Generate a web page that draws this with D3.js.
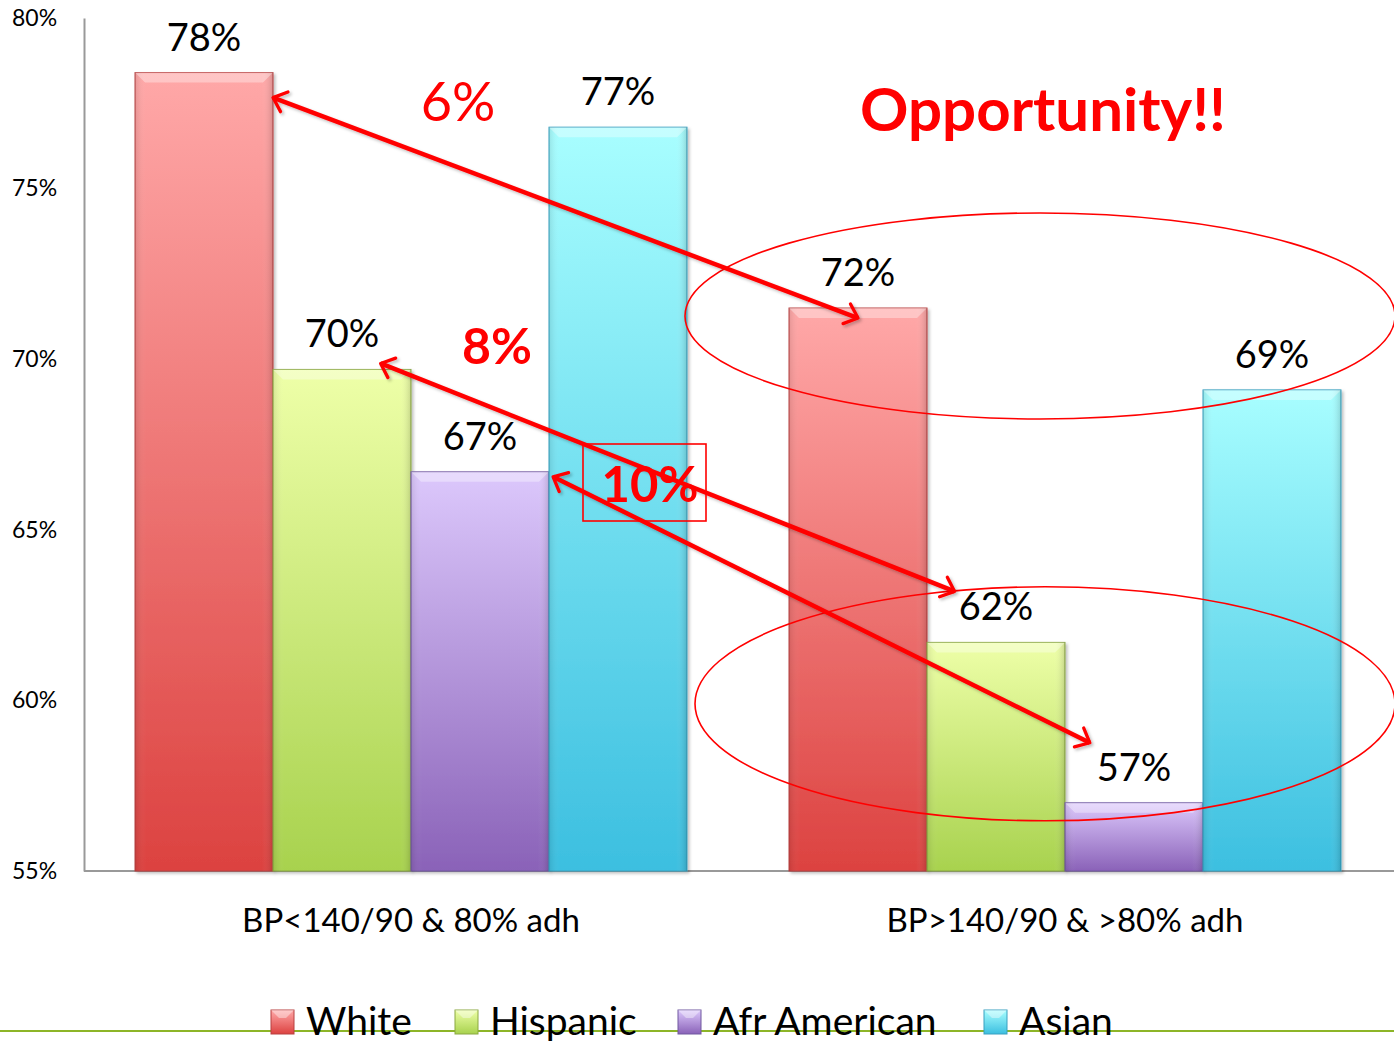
<!DOCTYPE html>
<html><head><meta charset="utf-8">
<script src="https://cdn.jsdelivr.net/npm/d3@7"></script>
<style>
html,body{margin:0;padding:0;background:#fff;}
svg{display:block;font-family:Lato, "Open Sans", sans-serif;}
</style></head>
<body>
<svg id="chart" width="1394" height="1041"></svg>
<script>
// ---- data ----
const categories = ["BP<140/90 & 80% adh", "BP>140/90 & >80% adh"];
const seriesNames = ["White", "Hispanic", "Afr American", "Asian"];
const white = [78.4, 71.5];
const hispanic = [69.7, 61.7];
const afrAmerican = [66.7, 57.0];
const asian = [76.8, 69.1];
const valueLabels = [["78%","70%","67%","77%"],["72%","62%","57%","69%"]];
const yTicks = [55, 60, 65, 70, 75, 80];
const diffLabels = ["6%", "8%", "10%"];
const calloutText = "Opportunity!!";

const seriesValues = [white, hispanic, afrAmerican, asian];
const colors = [
  {top:"#ffa8a8", bot:"#dc4240", edge:"#b84040"},
  {top:"#eeffa8", bot:"#a8d24e", edge:"#8aa840"},
  {top:"#dcc8fc", bot:"#8a62b8", edge:"#7058a0"},
  {top:"#a8feff", bot:"#3cbfe0", edge:"#38a0c0"}
];

const svg = d3.select("#chart");
const mLeft = 84, mRight = 1392, mTop = 18, mBottom = 871;

const x0 = d3.scaleBand().domain(categories).range([mLeft, mRight]).paddingInner(0.156).paddingOuter(0.078);
const x1 = d3.scaleBand().domain(seriesNames).range([0, x0.bandwidth()]).padding(0);
const y = d3.scaleLinear().domain([55, 80]).range([mBottom, mTop]);

const defs = svg.append("defs");
colors.forEach((c,i)=>{
  const g = defs.append("linearGradient").attr("id","grad"+i).attr("x1",0).attr("y1",0).attr("x2",0).attr("y2",1);
  g.append("stop").attr("offset","0%").attr("stop-color",c.top);
  g.append("stop").attr("offset","100%").attr("stop-color",c.bot);
  const h = defs.append("linearGradient").attr("id","hgrad"+i).attr("x1",0).attr("y1",0).attr("x2",1).attr("y2",0);
  h.append("stop").attr("offset","0%").attr("stop-color","#000").attr("stop-opacity",0.10);
  h.append("stop").attr("offset","8%").attr("stop-color","#fff").attr("stop-opacity",0.0);
  h.append("stop").attr("offset","92%").attr("stop-color","#fff").attr("stop-opacity",0.0);
  h.append("stop").attr("offset","100%").attr("stop-color","#000").attr("stop-opacity",0.15);
});
const f = defs.append("filter").attr("id","shadow").attr("x","-10%").attr("y","-10%").attr("width","130%").attr("height","130%");
f.append("feDropShadow").attr("dx",2).attr("dy",2).attr("stdDeviation",1.5).attr("flood-color","#000").attr("flood-opacity",0.25);

// axes
const yAxis = svg.append("g").attr("transform",`translate(${mLeft},0)`)
  .call(d3.axisLeft(y).tickValues(yTicks).tickFormat(d=>d+"%").tickSize(0).tickPadding(26));
yAxis.select(".domain").attr("stroke","#999").attr("stroke-width",2);
yAxis.selectAll("text").attr("font-size",23).attr("fill","#000").attr("font-family","Lato, sans-serif").attr("text-anchor","start").attr("x",-72).attr("dy","0.32em");

svg.append("line").attr("x1",mLeft).attr("x2",1394).attr("y1",mBottom).attr("y2",mBottom).attr("stroke","#999").attr("stroke-width",2);

// bars
const groups = svg.append("g").selectAll("g").data(categories).join("g")
  .attr("transform",d=>`translate(${x0(d)},0)`);
groups.each(function(cat,ci){
  const g = d3.select(this);
  seriesNames.forEach((s,si)=>{
    const v = seriesValues[si][ci];
    const bx = x1(s), bw = x1.bandwidth(), by = y(v), bh = y(55)-y(v);
    g.append("rect").attr("x",bx).attr("y",by).attr("width",bw).attr("height",bh)
      .attr("fill",`url(#grad${si})`).attr("stroke",colors[si].edge).attr("stroke-width",1).attr("filter","url(#shadow)");
    g.append("rect").attr("x",bx).attr("y",by).attr("width",bw).attr("height",bh).attr("fill",`url(#hgrad${si})`);
    g.append("path").attr("d",`M${bx},${by} L${bx+bw},${by} L${bx+bw-10},${by+10} L${bx+10},${by+10} Z`)
      .attr("fill","#fff").attr("opacity",0.35);
    g.append("text").attr("x",bx+bw/2).attr("y",by-22).attr("text-anchor","middle")
      .attr("font-size",38).attr("fill","#000").text(valueLabels[ci][si]);
  });
});

// category labels
svg.append("g").selectAll("text").data(categories).join("text")
  .attr("x",d=>x0(d)+x0.bandwidth()/2).attr("y",932).attr("text-anchor","middle")
  .attr("font-size",33).attr("fill","#000").text(d=>d);

// annotations: ellipses
const bw = x1.bandwidth();
const cx2 = x0(categories[1]) + x0.bandwidth()/2;
svg.append("ellipse").attr("cx",cx2-25).attr("cy",(y(71.5)+y(69.1))/2-33).attr("rx",355).attr("ry",103)
  .attr("fill","none").attr("stroke","#ff0000").attr("stroke-width",1.6);
svg.append("ellipse").attr("cx",cx2-20).attr("cy",y(59.9)).attr("rx",350).attr("ry",117)
  .attr("fill","none").attr("stroke","#ff0000").attr("stroke-width",1.6);

// arrows
const marker = defs.append("marker").attr("id","arrow").attr("viewBox","-12 -12 24 24")
  .attr("markerWidth",8).attr("markerHeight",8).attr("refX",0).attr("refY",0).attr("orient","auto-start-reverse").attr("markerUnits","strokeWidth");
marker.append("path").attr("d","M-8,-7 L0,0 L-8,7").attr("fill","none").attr("stroke","#ff0000").attr("stroke-width",2.2).attr("stroke-linecap","round").attr("stroke-linejoin","round");
const ax = (ci,si,fx)=> x0(categories[ci]) + x1(seriesNames[si]) + bw*fx;
const arrows = [
  [ax(0,0,1.0), y(white[0])+25, ax(1,0,0.5), y(white[1])+10],
  [ax(0,1,0.78), y(hispanic[0])-6, ax(1,1,0.2), y(hispanic[1])-51],
  [ax(0,2,1.03), y(afrAmerican[0])+5, ax(1,2,0.18), y(afrAmerican[1])-60]
];
svg.append("g").attr("filter","url(#shadow)").selectAll("line").data(arrows).join("line")
  .attr("x1",d=>d[0]).attr("y1",d=>d[1]).attr("x2",d=>d[2]).attr("y2",d=>d[3])
  .attr("stroke","#ff0000").attr("stroke-width",4.5)
  .attr("marker-start","url(#arrow)").attr("marker-end","url(#arrow)");

// diff labels
svg.append("text").attr("x",458).attr("y",121).attr("text-anchor","middle").attr("font-size",54).attr("fill","#ff0000").text(diffLabels[0]);
svg.append("text").attr("x",497).attr("y",364).attr("text-anchor","middle").attr("font-size",50).attr("font-weight","bold").attr("fill","#ff0000").text(diffLabels[1]);
svg.append("rect").attr("x",583).attr("y",444).attr("width",123).attr("height",77).attr("fill","none").attr("stroke","#ff0000").attr("stroke-width",1.6);
svg.append("text").attr("x",650).attr("y",502).attr("text-anchor","middle").attr("font-size",49).attr("font-weight","bold").attr("fill","#ff0000").text(diffLabels[2]);
svg.append("text").attr("x",1043).attr("y",131).attr("text-anchor","middle").attr("font-size",60).attr("font-weight","bold").attr("fill","#ff0000").text(calloutText);

// footer line
svg.append("line").attr("x1",0).attr("x2",1394).attr("y1",1031).attr("y2",1031).attr("stroke","#8db528").attr("stroke-width",2);

// legend
const legendX = [271, 455, 678, 984];
const leg = svg.append("g").selectAll("g").data(seriesNames).join("g")
  .attr("transform",(d,i)=>`translate(${legendX[i]},1010)`);
leg.append("rect").attr("width",23).attr("height",24).attr("fill",(d,i)=>`url(#grad${i})`).attr("stroke",(d,i)=>colors[i].edge);
leg.append("path").attr("d","M0,0 L23,0 L15,8 L8,8 Z").attr("fill","#fff").attr("opacity",0.4);
leg.append("text").attr("x",35).attr("y",25).attr("font-size",39).attr("fill","#000").text(d=>d);
</script>
</body></html>
